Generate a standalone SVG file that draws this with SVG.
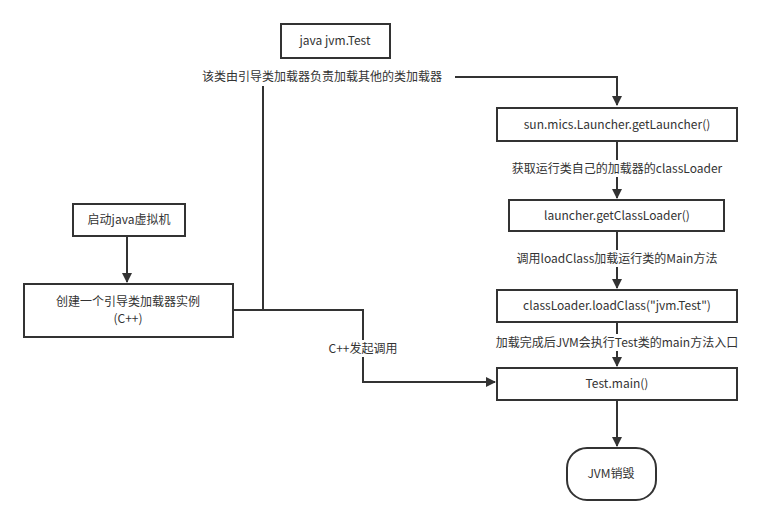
<svg xmlns="http://www.w3.org/2000/svg" width="764" height="523" viewBox="0 0 764 523">
<style>
.n{fill:#fff;stroke:#333;stroke-width:2}
.t{font-family:"Noto Sans CJK SC","Noto Sans",sans-serif;font-size:12px;fill:#333;text-anchor:middle}
.c{fill:none;stroke:#333;stroke-width:2}
.lb{fill:#fff}
</style>
<defs><marker id="a" markerWidth="10" markerHeight="10" refX="9" refY="5" orient="auto" markerUnits="userSpaceOnUse"><path d="M0,0 L10,5 L0,10z" fill="#333"/></marker></defs>
<rect width="764" height="523" fill="#fff"/>
<g id="connectors">
<path class="c" d="M455,77 H617 V105" marker-end="url(#a)"/>
<path class="c" d="M617,141 V198" marker-end="url(#a)"/>
<path class="c" d="M617,231 V288" marker-end="url(#a)"/>
<path class="c" d="M617,322 V366" marker-end="url(#a)"/>
<path class="c" d="M617,400 V446" marker-end="url(#a)"/>
<path class="c" d="M127,236 V282" marker-end="url(#a)"/>
<path class="c" d="M233,310 H363 V382 H495" marker-end="url(#a)"/>
<path class="c" d="M263,310 V86"/>
<rect class="lb" x="498" y="160" width="240" height="17"/><text class="t" x="617" y="173">获取运行类自己的加载器的classLoader</text>
<rect class="lb" x="503" y="250" width="228" height="17"/><text class="t" x="617" y="263">调用loadClass加载运行类的Main方法</text>
<rect class="lb" x="478" y="334" width="278" height="17"/><text class="t" x="617" y="347">加载完成后JVM会执行Test类的main方法入口</text>
<rect class="lb" x="323" y="340" width="80" height="17"/><text class="t" x="363" y="353">C++发起调用</text>
<text class="t" x="322" y="81">该类由引导类加载器负责加载其他的类加载器</text>
</g>
<g id="n1"><rect class="n" x="281" y="24" width="109" height="34"/><text class="t" x="335" y="45">java jvm.Test</text></g>
<g id="n2"><rect class="n" x="497" y="108" width="240" height="33"/><text class="t" x="617" y="129">sun.mics.Launcher.getLauncher()</text></g>
<g id="n3"><rect class="n" x="509" y="200" width="215" height="31"/><text class="t" x="617" y="220">launcher.getClassLoader()</text></g>
<g id="n4"><rect class="n" x="497" y="290" width="240" height="32"/><text class="t" x="617" y="310">classLoader.loadClass("jvm.Test")</text></g>
<g id="n5"><rect class="n" x="497" y="368" width="240" height="32"/><text class="t" x="617" y="388">Test.main()</text></g>
<g id="n6"><rect class="n" x="567" y="448" width="89" height="52" rx="20"/><text class="t" x="611" y="478">JVM销毁</text></g>
<g id="n7"><rect class="n" x="73" y="204" width="112" height="32"/><text class="t" x="129" y="224">启动java虚拟机</text></g>
<g id="n8"><rect class="n" x="24" y="284" width="209" height="53"/><text class="t" x="128" y="306">创建一个引导类加载器实例</text><text class="t" x="128" y="323">(C++)</text></g>
</svg>
